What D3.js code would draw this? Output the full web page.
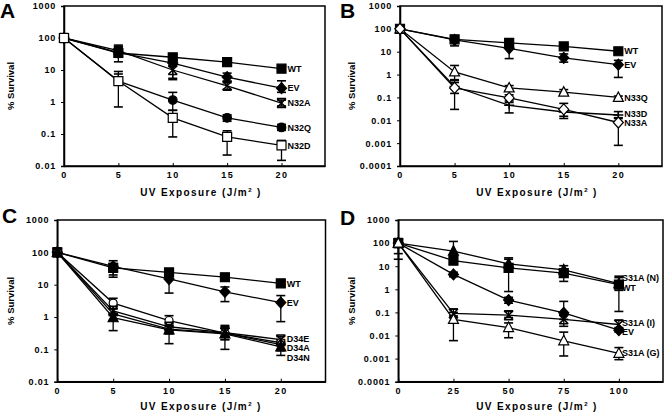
<!DOCTYPE html>
<html><head><meta charset="utf-8">
<script src="https://cdn.jsdelivr.net/npm/d3@7"></script>
<style>
body{margin:0;background:#fff;}
svg{display:block;font-family:"Liberation Sans",Arial,sans-serif;font-weight:bold;}
</style></head>
<body><svg id="c" width="664" height="415"></svg>
<script>
// ---------- DATA ----------
const doseABC = [0, 5, 10, 15, 20];
const doseD = [0, 25, 50, 75, 100];
const xTicksABC = [0, 5, 10, 15, 20];
const xTicksD = [0, 25, 50, 75, 100];
const yTicks4 = [0.01, 0.1, 1, 10, 100, 1000];
const yTicks7 = [0.0001, 0.001, 0.01, 0.1, 1, 10, 100, 1000];
const yTickLabels = {"0.0001":"0.0001","0.001":"0.001","0.01":"0.01","0.1":"0.1","1":"1","10":"10","100":"100","1000":"1000"};

// Panel A
const A_WT   = [100, 34, 25, 17.5, 11];
const A_WT_lo = [null, 25, 20, 14, 9];
const A_WT_hi = [null, 45, 30, 20, 13];
const A_EV   = [100, 35, 16.5, 6, 2.7];
const A_EV_lo = [null, 18, 5, 4.5, 2];
const A_EV_hi = [null, 50, 20, 8, 4.6];
const A_N32A = [100, 40, 10, 3.2, 0.93];
const A_N32A_lo = [null, 30, 5.5, 2.5, 0.75];
const A_N32A_hi = [null, 60, 13, 4, 1.15];
const A_N32Q = [100, 4.5, 1.15, 0.32, 0.16];
const A_N32Q_lo = [null, 3.5, 0.55, 0.25, 0.13];
const A_N32Q_hi = [null, 7.5, 2.0, 0.4, 0.2];
const A_N32D = [100, 4.5, 0.32, 0.081, 0.044];
const A_N32D_lo = [null, 0.7, 0.081, 0.022, 0.015];
const A_N32D_hi = [null, 9, 0.55, 0.126, 0.063];

// Panel B
const B_WT   = [100, 35, 24.5, 17, 10.5];
const B_WT_lo = [null, 28, 20, 14, 9];
const B_WT_hi = [null, 45, 30, 21, 12];
const B_EV   = [100, 33, 14, 5.4, 2.7];
const B_EV_lo = [null, 18, 5, 3.5, 0.75];
const B_EV_hi = [null, 50, 20, 8, 4.2];
const B_N33Q = [100, 1.3, 0.26, 0.17, 0.1];
const B_N33Q_lo = [null, 0.6, 0.2, 0.14, 0.085];
const B_N33Q_hi = [null, 2.5, 0.33, 0.22, 0.115];
const B_N33D = [100, 0.3, 0.045, 0.023, 0.017];
const B_N33D_lo = [null, 0.15, 0.021, 0.015, 0.013];
const B_N33D_hi = [null, 0.55, 0.06, 0.03, 0.024];
const B_N33A = [100, 0.26, 0.095, 0.03, 0.008];
const B_N33A_lo = [null, 0.03, 0.07, 0.012, 0.0008];
const B_N33A_hi = [null, 0.45, 0.13, 0.055, 0.012];

// Panel C
const C_WT   = [100, 33, 24, 17, 11];
const C_WT_lo = [null, 17, 18, 13, 8.5];
const C_WT_hi = [null, 45, 30, 22, 13];
const C_EV   = [100, 37, 15, 6, 2.8];
const C_EV_lo = [null, 20, 5.5, 3, 0.72];
const C_EV_hi = [null, 55, 22, 8.5, 4.6];
const C_OPEN = [100, 2.7, 0.78, 0.32, 0.16];
const C_OPEN_lo = [null, 1.8, 0.55, 0.2, 0.13];
const C_OPEN_hi = [null, 3.8, 1.1, 0.55, 0.2];
const C_D34E = [100, 1.55, 0.5, 0.33, 0.2];
const C_D34E_lo = [null, 1.1, 0.4, 0.25, 0.17];
const C_D34E_hi = [null, 2.2, 0.62, 0.45, 0.25];
const C_D34N = [100, 1.25, 0.42, 0.32, 0.14];
const C_D34N_lo = [null, 0.8, 0.3, 0.2, 0.065];
const C_D34N_hi = [null, 1.8, 0.55, 0.5, 0.18];
const C_D34A = [100, 0.95, 0.4, 0.3, 0.12];
const C_D34A_lo = [null, 0.38, 0.15, 0.1, 0.09];
const C_D34A_hi = [null, 1.3, 0.5, 0.45, 0.15];

// Panel D
const D_N   = [100, 45, 12.6, 7, 1.75];
const D_N_lo = [null, 30, 8, 4.5, 0.9];
const D_N_hi = [null, 118, 23, 10.5, 3.7];
const D_WT  = [100, 17.6, 8.5, 5, 1.6];
const D_WT_lo = [20, 12, 0.8, 2.2, 0.11];
const D_WT_hi = [130, 25, 20, 7, 3.2];
const D_EV  = [100, 4.4, 0.34, 0.096, 0.017];
const D_EV_lo = [35, 3.5, 0.25, 0.05, 0.014];
const D_EV_hi = [120, 5.5, 0.45, 0.3, 0.02];
const D_I   = [100, 0.09, 0.076, 0.05, 0.03];
const D_I_lo = [null, 0.07, 0.06, 0.025, 0.022];
const D_I_hi = [null, 0.14, 0.11, 0.08, 0.045];
const D_G   = [100, 0.05, 0.022, 0.0059, 0.0017];
const D_G_lo = [null, 0.006, 0.008, 0.0013, 0.0009];
const D_G_hi = [null, 0.1, 0.035, 0.014, 0.003];

// ---------- LAYOUT ----------
const panels = [
  {letter:"A", lx:0, ly:18, x0:64, x1:325, y0:6, y1:166, xMax:24, dose:doseABC, xTicks:xTicksABC, yTicks:yTicks4, yMin:0.01,
   ylabX:14, titleX:201, titleDy:30,
   series:[
     {name:"WT", v:A_WT, lo:A_WT_lo, hi:A_WT_hi, m:"square"},
     {name:"EV", v:A_EV, lo:A_EV_lo, hi:A_EV_hi, m:"diamond"},
     {name:"N32A", v:A_N32A, lo:A_N32A_lo, hi:A_N32A_hi, m:"xbar"},
     {name:"N32Q", v:A_N32Q, lo:A_N32Q_lo, hi:A_N32Q_hi, m:"circle"},
     {name:"N32D", v:A_N32D, lo:A_N32D_lo, hi:A_N32D_hi, m:"osquare"}
   ]},
  {letter:"B", lx:340, ly:18, x0:400, x1:662, y0:6, y1:166, xMax:24, dose:doseABC, xTicks:xTicksABC, yTicks:yTicks7, yMin:0.0001,
   ylabX:355, titleX:537, titleDy:30,
   series:[
     {name:"WT", v:B_WT, lo:B_WT_lo, hi:B_WT_hi, m:"square"},
     {name:"EV", v:B_EV, lo:B_EV_lo, hi:B_EV_hi, m:"diamond"},
     {name:"N33Q", v:B_N33Q, lo:B_N33Q_lo, hi:B_N33Q_hi, m:"otri"},
     {name:"N33D", v:B_N33D, lo:B_N33D_lo, hi:B_N33D_hi, m:"plus", dy:-1.5},
     {name:"N33A", v:B_N33A, lo:B_N33A_lo, hi:B_N33A_hi, m:"odiamond", dy:0.5}
   ]},
  {letter:"C", lx:2, ly:223, x0:57.3, x1:325.5, y0:220, y1:381.7, xMax:24, dose:doseABC, xTicks:xTicksABC, yTicks:yTicks4, yMin:0.01,
   ylabX:14, titleX:201, titleDy:28,
   series:[
     {name:"WT", v:C_WT, lo:C_WT_lo, hi:C_WT_hi, m:"square"},
     {name:"EV", v:C_EV, lo:C_EV_lo, hi:C_EV_hi, m:"diamond"},
     {name:"", v:C_OPEN, lo:C_OPEN_lo, hi:C_OPEN_hi, m:"ocircle"},
     {name:"D34E", v:C_D34E, lo:C_D34E_lo, hi:C_D34E_hi, m:"xbar", dy:-1},
     {name:"D34N", v:C_D34N, lo:C_D34N_lo, hi:C_D34N_hi, m:"plus", dy:13.5},
     {name:"D34A", v:C_D34A, lo:C_D34A_lo, hi:C_D34A_hi, m:"tri", dy:1.2}
   ]},
  {letter:"D", lx:340, ly:225, x0:398.3, x1:663, y0:220, y1:381.7, xMax:120, dose:doseD, xTicks:xTicksD, yTicks:yTicks7, yMin:0.0001,
   ylabX:355, titleX:537, titleDy:28, lab0:3,
   series:[
     {name:"S31A (N)", v:D_N, lo:D_N_lo, hi:D_N_hi, m:"tri", dy:-6},
     {name:"WT", v:D_WT, lo:D_WT_lo, hi:D_WT_hi, m:"square", dy:3.5},
     {name:"EV", v:D_EV, lo:D_EV_lo, hi:D_EV_hi, m:"diamond", dy:2},
     {name:"S31A (I)", v:D_I, lo:D_I_lo, hi:D_I_hi, m:"xbar", dy:-2},
     {name:"S31A (G)", v:D_G, lo:D_G_lo, hi:D_G_hi, m:"otri", dy:0}
   ]}
];

const svg = d3.select("#c");
const markerPath = {
  square: "M-4.5,-4.5H4.5V4.5H-4.5Z",
  osquare: "M-4.5,-4.5H4.5V4.5H-4.5Z",
  diamond: "M0,-5.5L5,0L0,5.5L-5,0Z",
  odiamond: "M0,-5.5L5,0L0,5.5L-5,0Z",
  tri: "M0,-5.5L5,4L-5,4Z",
  otri: "M0,-5.5L5,4L-5,4Z",
  xbar: "M-4.5,-4.5L4.5,4.5M4.5,-4.5L-4.5,4.5M-4.5,-4.5H4.5M-4.5,4.5H4.5",
  plus: "M-5,0H5M0,-4V4"
};
const filled = {square:true, diamond:true, tri:true, circle:true};

panels.forEach(p => {
  const x = d3.scaleLinear().domain([0, p.xMax]).range([p.x0, p.x1]);
  const y = d3.scaleLog().domain([p.yMin, 1000]).range([p.y1, p.y0]);
  const g = svg.append("g");

  // frame
  g.append("rect").attr("x", p.x0).attr("y", p.y0).attr("width", p.x1 - p.x0).attr("height", p.y1 - p.y0)
    .attr("fill", "none").attr("stroke", "#000").attr("stroke-width", 1.5);

  // y axis
  const ya = g.append("g").attr("transform", `translate(${p.x0},0)`)
    .call(d3.axisLeft(y).tickValues(p.yTicks).tickSize(3).tickPadding(5).tickFormat(d => yTickLabels[String(d)]));
  ya.select(".domain").attr("stroke-width", 1.5);
  ya.selectAll("text").attr("font-size", 9).attr("font-weight", "bold").attr("letter-spacing", 0.8)
    .attr("font-family", "Liberation Sans, Arial, sans-serif");
  // x axis
  const xa = g.append("g").attr("transform", `translate(0,${p.y1})`)
    .call(d3.axisBottom(x).tickValues(p.xTicks).tickSizeInner(-3).tickSizeOuter(0).tickPadding(6));
  xa.select(".domain").attr("stroke-width", 1.5);
  xa.selectAll("text").attr("font-size", 9).attr("font-weight", "bold").attr("letter-spacing", 1.5)
    .attr("font-family", "Liberation Sans, Arial, sans-serif");

  // titles
  const t = g.append("text").attr("x", p.titleX).attr("y", p.y1 + p.titleDy).attr("text-anchor", "middle")
    .attr("font-size", 10).attr("letter-spacing", 1.4).text("UV Exposure (J/m");
  t.append("tspan").attr("font-size", 6).attr("dy", -4).text("2");
  t.append("tspan").attr("dy", 4).text(" )");
  g.append("text").attr("transform", `translate(${p.ylabX},${(p.y0 + p.y1) / 2}) rotate(-90)`)
    .attr("text-anchor", "middle").attr("font-size", 9.5).text("% Survival");
  g.append("text").attr("x", p.lx).attr("y", p.ly).attr("font-size", 21).text(p.letter);

  const line = d3.line().x((d, i) => x(p.dose[i])).y(d => y(d));
  p.series.forEach(s => {
    g.append("path").attr("d", line(s.v)).attr("fill", "none").attr("stroke", "#000").attr("stroke-width", 1.3);
  });
  p.series.forEach(s => {
    s.v.forEach((v, i) => {
      if (s.lo[i] == null) return;
      const cx = x(p.dose[i]);
      const eg = g.append("g").attr("stroke", "#000").attr("stroke-width", 1.3);
      eg.append("line").attr("x1", cx).attr("x2", cx).attr("y1", y(s.lo[i])).attr("y2", y(s.hi[i]));
      [s.lo[i], s.hi[i]].forEach(e => eg.append("line").attr("x1", cx - 4.5).attr("x2", cx + 4.5)
        .attr("y1", y(e)).attr("y2", y(e)).attr("stroke-width", 1.6));
    });
  });
  p.series.forEach(s => {
    s.v.forEach((v, i) => {
      const cx = x(p.dose[i]), cy = y(v);
      if (s.m === "circle" || s.m === "ocircle") {
        g.append("circle").attr("cx", cx).attr("cy", cy).attr("r", s.m === "circle" ? 4.3 : 4)
          .attr("fill", s.m === "circle" ? "#000" : "#fff").attr("stroke", "#000").attr("stroke-width", 1.2);
      } else {
        g.append("path").attr("transform", `translate(${cx},${cy})`).attr("d", markerPath[s.m])
          .attr("fill", filled[s.m] ? "#000" : (s.m === "xbar" || s.m === "plus" ? "none" : "#fff"))
          .attr("stroke", "#000").attr("stroke-width", s.m === "xbar" || s.m === "plus" ? 1.5 : 1.2);
      }
    });
    if (s.name) {
      const last = s.v.length - 1;
      g.append("text").attr("x", x(p.dose[last]) + (p.lab0 || 6)).attr("y", y(s.v[last]) + 3.2 + (s.dy || 0))
        .attr("font-size", 9).text(s.name);
    }
  });
});
</script></body></html>
